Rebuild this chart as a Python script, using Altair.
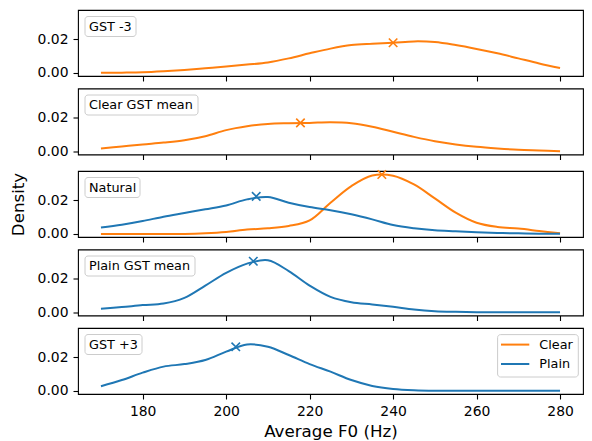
import altair as alt
import pandas as pd

# ---------------- data ----------------
f0_grid = [170, 175, 180, 185, 190, 195, 200, 205, 210, 215, 220, 225,
           230, 235, 240, 245, 250, 255, 260, 265, 270, 275, 280]

gst_m3_clear = [0.0001, 0.0002, 0.0004, 0.0010, 0.0018, 0.0028, 0.0038, 0.0050,
                0.0063, 0.0087, 0.0117, 0.0145, 0.0166, 0.0174, 0.0180, 0.0188,
                0.0184, 0.0166, 0.0143, 0.0117, 0.0087, 0.0057, 0.0030]

clear_gst_mean = [0.0018, 0.0030, 0.0042, 0.0053, 0.0067, 0.0091, 0.0127, 0.0150,
                  0.0164, 0.0168, 0.0170, 0.0174, 0.0168, 0.0147, 0.0117, 0.0087,
                  0.0061, 0.0042, 0.0028, 0.0018, 0.0010, 0.0006, 0.0002]

natural_clear = [0.0000, 0.0000, 0.0000, 0.0000, 0.0000, 0.0004, 0.0012, 0.0026,
                 0.0034, 0.0048, 0.0081, 0.0186, 0.0285, 0.0348, 0.0347, 0.0295,
                 0.0212, 0.0127, 0.0067, 0.0042, 0.0032, 0.0018, 0.0004]

natural_plain = [0.0038, 0.0055, 0.0077, 0.0103, 0.0125, 0.0147, 0.0170, 0.0206,
                 0.0220, 0.0186, 0.0160, 0.0141, 0.0117, 0.0087, 0.0053, 0.0034,
                 0.0022, 0.0016, 0.0010, 0.0006, 0.0004, 0.0002, 0.0002]

plain_gst_mean = [0.0022, 0.0032, 0.0044, 0.0053, 0.0087, 0.0160, 0.0236, 0.0291,
                  0.0311, 0.0246, 0.0160, 0.0093, 0.0061, 0.0048, 0.0034, 0.0018,
                  0.0008, 0.0004, 0.0002, 0.0002, 0.0002, 0.0002, 0.0002]

gst_p3_plain = [0.0028, 0.0065, 0.0109, 0.0145, 0.0160, 0.0184, 0.0234, 0.0277,
                0.0263, 0.0214, 0.0160, 0.0115, 0.0065, 0.0030, 0.0012, 0.0004,
                0.0001, 0.0001, 0.0001, 0.0001, 0.0001, 0.0001, 0.0001]

panel_names = ["GST -3", "Clear GST mean", "Natural", "Plain GST mean", "GST +3"]
series_panel = ["GST -3", "Clear GST mean", "Natural", "Natural", "Plain GST mean", "GST +3"]
series_group = ["Clear", "Clear", "Clear", "Plain", "Plain", "Plain"]
series_values = [gst_m3_clear, clear_gst_mean, natural_clear, natural_plain,
                 plain_gst_mean, gst_p3_plain]

# mean markers (x = mean F0, y = density at the mean)
mean_f0 = [240.0, 217.8, 237.3, 207.2, 206.5, 202.3]
mean_density = [0.0180, 0.0170, 0.0354, 0.0224, 0.0305, 0.0263]

groups = ["Clear", "Plain"]
group_colors = ["#ff7f0e", "#1f77b4"]

# ---------------- styling ----------------
FONT = "DejaVu Sans"
W, H = 505, 66
BOX_FONT = 12.8
box_w = {"GST -3": 51, "Clear GST mean": 113, "Natural": 55,
         "Plain GST mean": 110, "GST +3": 57}

rows = []
for p, g, vals in zip(series_panel, series_group, series_values):
    for f, d in zip(f0_grid, vals):
        rows.append({"panel": p, "group": g, "f0": f, "density": d})
curves = pd.DataFrame(rows)
marks = pd.DataFrame({"panel": series_panel, "group": series_group,
                      "f0": mean_f0, "density": mean_density})

x_scale = alt.Scale(domain=[164.5, 285.5], nice=False, zero=False)
y_scale = alt.Scale(domain=[-0.0018, 0.0375], nice=False, zero=False)
c_scale = alt.Scale(domain=groups, range=group_colors)
xshape = "M -1 -1 L 1 1 M 1 -1 L -1 1"


def legend_layers():
    """Framed legend box (upper right of the last panel)."""
    left, right = W - 85.4, W - 4.7
    top, bottom = 6.6, 49.0
    one = pd.DataFrame({"k": [0]})
    frame = alt.Chart(one).mark_rect(fill="white", fillOpacity=0.8, stroke="#cccccc",
                                     strokeWidth=1, cornerRadius=3).encode(
        x=alt.value(left), x2=alt.value(right), y=alt.value(top), y2=alt.value(bottom))
    out = [frame]
    for i, (g, c) in enumerate(zip(groups, group_colors)):
        yy = 16.6 + i * 19.4
        d = pd.DataFrame({"group": [g]})
        out.append(alt.Chart(d).mark_rule(strokeWidth=2, color=c).encode(
            x=alt.value(left + 3.4), x2=alt.value(left + 31.7), y=alt.value(yy)))
        out.append(alt.Chart(d).mark_text(align="left", baseline="middle", font=FONT,
                                          fontSize=BOX_FONT, color="black").encode(
            x=alt.value(left + 41.7), y=alt.value(yy), text="group:N"))
    return out


def panel(name, idx):
    last = idx == len(panel_names) - 1
    mid = idx == 2
    xaxis = alt.Axis(values=[180, 200, 220, 240, 260, 280], labels=last,
                     title="Average F0 (Hz)" if last else None,
                     titlePadding=6)
    yaxis = alt.Axis(values=[0, 0.02], format=".2f",
                     title="Density" if mid else None, titlePadding=10)
    cdata = curves[curves.panel == name]
    mdata = marks[marks.panel == name]
    lines = alt.Chart(cdata).mark_line(strokeWidth=2, interpolate="catmull-rom").encode(
        x=alt.X("f0:Q", scale=x_scale, axis=xaxis),
        y=alt.Y("density:Q", scale=y_scale, axis=yaxis),
        color=alt.Color("group:N", scale=c_scale, legend=None),
        order=alt.Order("f0:Q"),
        detail="group:N",
    )
    pts = alt.Chart(mdata).mark_point(shape=xshape, filled=False, size=72,
                                      strokeWidth=1.6, opacity=1).encode(
        x=alt.X("f0:Q", scale=x_scale),
        y=alt.Y("density:Q", scale=y_scale),
        color=alt.Color("group:N", scale=c_scale, legend=None),
    )
    lab = pd.DataFrame({"label": [name]})
    box = alt.Chart(lab).mark_rect(fill="white", fillOpacity=0.8, stroke="#cccccc",
                                   strokeWidth=1, cornerRadius=3).encode(
        x=alt.value(7), x2=alt.value(7 + box_w[name]),
        y=alt.value(6.5), y2=alt.value(26.5),
    )
    txt = alt.Chart(lab).mark_text(align="left", baseline="middle", font=FONT,
                                   fontSize=BOX_FONT, color="black").encode(
        x=alt.value(11), y=alt.value(16.8), text="label:N",
    )
    layers = [lines, pts, box, txt]
    if last:
        layers += legend_layers()
    return alt.layer(*layers).properties(width=W, height=H)


chart = alt.vconcat(*[panel(n, i) for i, n in enumerate(panel_names)], spacing=4.5)
chart = chart.properties(padding={"left": 1, "top": 1, "right": 0, "bottom": 0})
chart = chart.configure(font=FONT).configure_view(stroke="black", strokeWidth=1.1).configure_axis(
    labelFont=FONT, titleFont=FONT, labelFontSize=13.9, titleFontSize=16.7,
    titleFontWeight="normal", labelColor="black", titleColor="black",
    tickColor="black", tickSize=5, tickWidth=1.1, labelPadding=5,
    grid=False, domain=False,
)

chart.save("out.html", embed_options={"renderer": "svg", "actions": False})
